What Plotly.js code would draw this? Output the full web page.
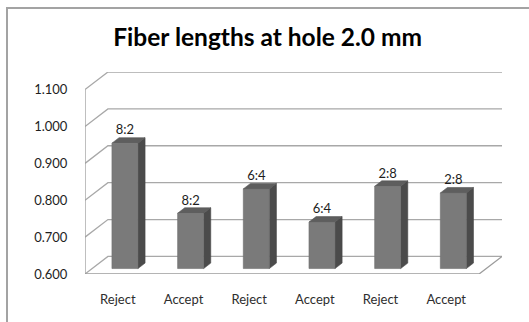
<!DOCTYPE html>
<html>
<head>
<meta charset="utf-8">
<script src="https://cdn.plot.ly/plotly-3.0.1.min.js"></script>
<style>
  html, body { margin: 0; padding: 0; background: #ffffff; }
  #wrap { position: relative; width: 529px; height: 322px; overflow: hidden; }
  #chart { position: absolute; left: 0; top: 0; width: 529px; height: 322px; }
  #frame {
    position: absolute; left: 6px; top: 7px; width: 600px; height: 400px;
    border-left: 2px solid #a3a3a3; border-top: 2px solid #a3a3a3;
    pointer-events: none;
  }
</style>
</head>
<body>
<div id="wrap">
  <div id="chart"></div>
  <div id="frame"></div>
</div>
<script>
// Fiber length per fraction (Reject / Accept) for each mixing ratio
const categories = ['Reject', 'Accept', 'Reject', 'Accept', 'Reject', 'Accept'];
const ratios = ['8:2', '8:2', '6:4', '6:4', '2:8', '2:8'];
const fiberLength = [0.940, 0.750, 0.816, 0.726, 0.823, 0.805];
const yTicks = [0.6, 0.7, 0.8, 0.9, 1.0, 1.1];

// Oblique "3D" projection: depth moves right and up (in axis units)
const depthDx = 0.349;          // full wall depth along x
const depthDy = 0.0477;         // full wall depth along y
const barNear = 0.31;           // bar front as a fraction of the depth
const barFar = 0.62;            // bar back as a fraction of the depth
const barHalf = 0.198;          // half bar width
const yMin = yTicks[0];
const yMax = yTicks[yTicks.length - 1];
const nCat = categories.length;

const wallColor = '#9c9c9c';
const gridColor = '#a8a8a8';
const fontFamily = 'Lato, "Open Sans", sans-serif';

const traces = [];

// back-wall gridlines and the matching left-wall diagonals
const gx = [], gy = [];
yTicks.forEach(v => {
  gx.push(0, depthDx, nCat + depthDx, null);
  gy.push(v, v + depthDy, v + depthDy, null);
});
traces.push({
  type: 'scatter', mode: 'lines', x: gx, y: gy,
  line: { color: gridColor, width: 1.3 }, hoverinfo: 'skip', cliponaxis: false
});

// left wall edge and floor front edge
traces.push({
  type: 'scatter', mode: 'lines',
  x: [0, 0, null, 0, nCat, nCat + depthDx],
  y: [yMax, yMin, null, yMin, yMin, yMin + depthDy],
  line: { color: wallColor, width: 1.3 }, hoverinfo: 'skip', cliponaxis: false
});

// bar faces
const fx = [], fy = [], sx = [], sy = [], tx = [], ty = [];
const lx = [], ly = [];
fiberLength.forEach((v, i) => {
  const c = i + 0.5;
  const x0 = c - barHalf + barNear * depthDx, x1 = c + barHalf + barNear * depthDx;
  const b0 = yMin + barNear * depthDy, t0 = v + barNear * depthDy;
  const ox = (barFar - barNear) * depthDx, oy = (barFar - barNear) * depthDy;
  // front
  fx.push(x0, x1, x1, x0, x0, null);
  fy.push(b0, b0, t0, t0, b0, null);
  // right side
  sx.push(x1, x1 + ox, x1 + ox, x1, x1, null);
  sy.push(b0, b0 + oy, t0 + oy, t0, b0, null);
  // top
  tx.push(x0, x1, x1 + ox, x0 + ox, x0, null);
  ty.push(t0, t0, t0 + oy, t0 + oy, t0, null);
  // label anchor
  lx.push(c + barNear * depthDx);
  ly.push(v + barFar * depthDy);
});
traces.push({
  type: 'scatter', mode: 'lines', x: sx, y: sy, fill: 'toself',
  fillcolor: '#4b4b4b', line: { color: '#444444', width: 0.6 },
  hoverinfo: 'skip', cliponaxis: false
});
traces.push({
  type: 'scatter', mode: 'lines', x: tx, y: ty, fill: 'toself',
  fillcolor: '#5e5e5e', line: { color: '#555555', width: 0.6 },
  hoverinfo: 'skip', cliponaxis: false
});
traces.push({
  type: 'scatter', mode: 'lines', x: fx, y: fy, fill: 'toself',
  fillcolor: '#7a7a7a', line: { color: '#6e6e6e', width: 0.6 },
  hoverinfo: 'skip', cliponaxis: false
});

// ratio labels above the bars
traces.push({
  type: 'scatter', mode: 'text', x: lx, y: ly, text: ratios,
  textposition: 'top center',
  textfont: { family: fontFamily, size: 13, color: '#1e1e1e' },
  hoverinfo: 'skip', cliponaxis: false
});

const layout = {
  width: 529, height: 322,
  margin: { l: 85, r: 27, t: 72, b: 48, pad: 0 },
  paper_bgcolor: '#ffffff', plot_bgcolor: '#ffffff',
  showlegend: false,
  font: { family: fontFamily, color: '#222222' },
  title: {
    text: '<b>Fiber lengths at hole 2.0 mm</b>',
    font: { family: fontFamily, size: 24.5, color: '#000000' },
    xref: 'container', x: 0.506, xanchor: 'center',
    yref: 'container', y: 0.885, yanchor: 'middle'
  },
  xaxis: {
    range: [0, nCat + depthDx], fixedrange: true,
    showgrid: false, zeroline: false, showline: false,
    tickmode: 'array', tickvals: categories.map((_, i) => i + 0.5), ticktext: categories,
    ticks: 'outside', ticklen: 13, tickcolor: 'rgba(0,0,0,0)',
    tickfont: { size: 13, color: '#2e2e2e' }
  },
  yaxis: {
    range: [yMin, yMax + depthDy], fixedrange: true,
    showgrid: false, zeroline: false, showline: false,
    tickmode: 'array', tickvals: yTicks, tickformat: '.3f',
    ticks: 'outside', ticklen: 14, tickcolor: 'rgba(0,0,0,0)',
    tickfont: { size: 13, color: '#1e1e1e' }
  }
};

Plotly.newPlot('chart', traces, layout, { displayModeBar: false, staticPlot: true });
</script>
</body>
</html>
